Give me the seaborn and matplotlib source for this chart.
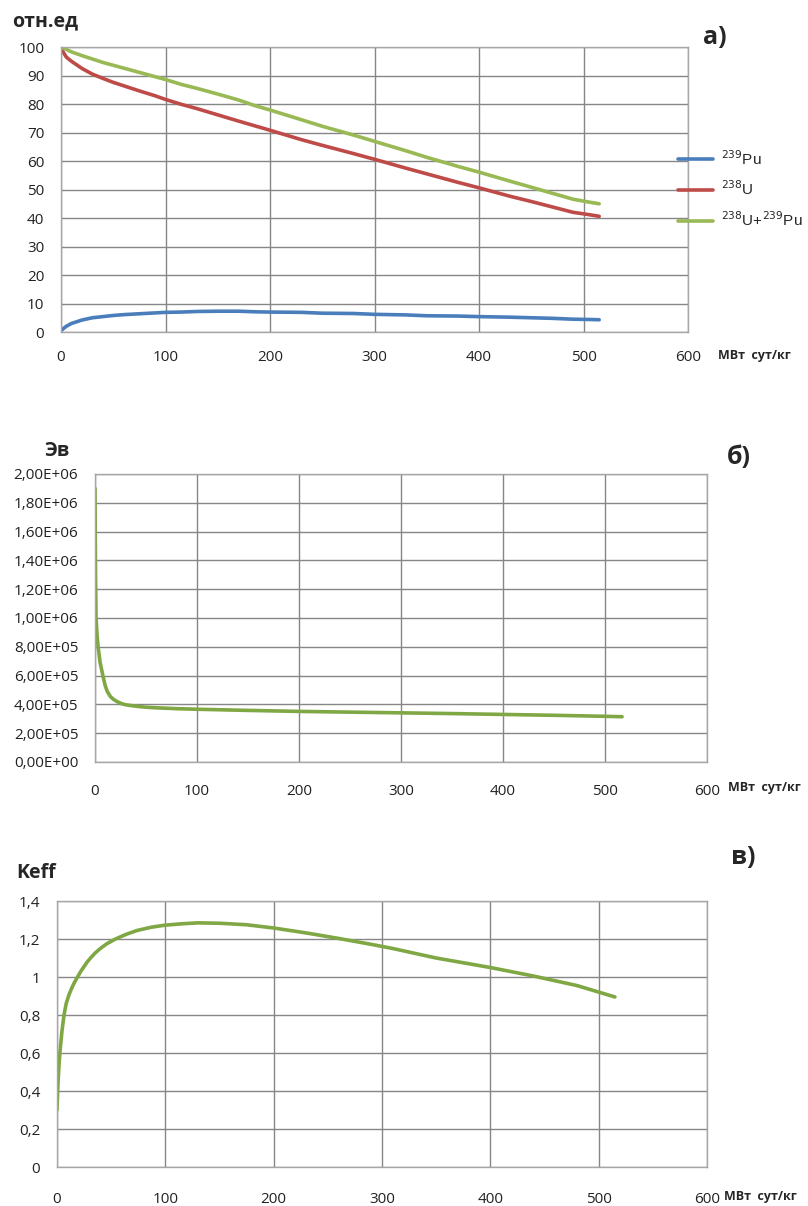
import numpy as np
import pandas as pd
import matplotlib.pyplot as plt
import seaborn as sns

## data read off the reference
# panel a: relative amounts, %
burnup_a = [0, 5, 10, 20, 30, 40, 50, 60, 75, 90, 100, 115, 130, 150, 170, 185, 200, 230, 250, 280,
            300, 330, 350, 380, 400, 430, 450, 470, 490, 505, 515]
pu239 = [0.5, 2.0, 3.0, 4.2, 5.0, 5.4, 5.8, 6.1, 6.4, 6.7, 6.9, 7.0, 7.2, 7.3, 7.3, 7.1, 7.0, 6.9, 6.6, 6.5,
         6.2, 6.0, 5.7, 5.6, 5.4, 5.2, 5.0, 4.8, 4.5, 4.4, 4.3]
u238 = [99.5, 96.5, 95.0, 92.5, 90.5, 89.0, 87.6, 86.4, 84.6, 82.9, 81.6, 79.9, 78.4, 76.2, 74.0, 72.4,
        70.8, 67.5, 65.5, 62.6, 60.6, 57.5, 55.5, 52.5, 50.6, 47.6, 45.8, 43.9, 42.0, 41.2, 40.6]
u238_pu239 = [100.0, 99.2, 98.3, 97.0, 95.8, 94.6, 93.6, 92.6, 91.1, 89.6, 88.6, 86.9, 85.5, 83.5, 81.4, 79.5,
              77.9, 74.5, 72.2, 69.1, 66.9, 63.6, 61.3, 58.1, 56.1, 52.9, 50.8, 48.7, 46.6, 45.6, 45.0]

# panel b: Эв
burnup_b = [0, 0.5, 1, 2, 3, 5, 8, 10, 12, 15, 18, 22, 26, 30, 40, 50, 60, 80, 100, 150, 200, 250, 300,
            350, 400, 450, 500, 517]
ev = [1.9e6, 1.3e6, 1.0e6, 8.8e5, 8.0e5, 6.9e5, 5.9e5, 5.3e5, 4.9e5, 4.55e5, 4.35e5, 4.18e5, 4.05e5,
      3.97e5, 3.87e5, 3.8e5, 3.76e5, 3.7e5, 3.66e5, 3.58e5, 3.51e5, 3.46e5, 3.41e5, 3.36e5, 3.3e5, 3.24e5,
      3.17e5, 3.14e5]

# panel c: Keff
burnup_c = [0, 1, 2, 3, 4.5, 6.5, 8.5, 11, 13.5, 16, 19, 22, 25, 28, 31, 35, 40, 46, 54, 64, 74, 87, 100,
            115, 130, 150, 175, 200, 230, 260, 290, 310, 350, 400, 440, 480, 515]
keff = [0.30, 0.45, 0.55, 0.62, 0.71, 0.80, 0.86, 0.905, 0.94, 0.97, 1.00, 1.03, 1.055, 1.08, 1.10, 1.125,
        1.15, 1.175, 1.20, 1.225, 1.245, 1.262, 1.273, 1.28, 1.285, 1.283, 1.275, 1.258, 1.232, 1.203, 1.172,
        1.15, 1.10, 1.05, 1.005, 0.955, 0.895]

BLUE, RED, GREEN = "#4a7ebb", "#be4b48", "#98b954"
GREEN2 = "#7fa743"

sns.set_style("white")
plt.rcParams['font.family'] = ['Open Sans', 'DejaVu Sans']


def style_axes(ax, ymax, ystep, xpad=10):
    ax.set_xlim(0, 600)
    ax.set_ylim(0, ymax)
    ax.set_xticks(range(0, 601, 100))
    ax.set_yticks(np.arange(0, ymax + ystep / 2, ystep))
    ax.grid(True, color="#868686", linewidth=1.0)
    for s in ax.spines.values():
        s.set_color("#a6a6a6")
        s.set_linewidth(1.0)
    ax.tick_params(axis="both", which="both", direction="out", length=6, width=1.0,
                   color="#868686", labelsize=11, labelcolor="#222222")
    ax.tick_params(axis="x", pad=xpad)
    ax.tick_params(axis="y", pad=6)
    ax.set_xlabel("")
    ax.set_ylabel("")


fig = plt.figure(figsize=(8.08, 12.06), dpi=100)

## panel a
ax_a = fig.add_axes([0.0755, 0.7247, 0.776, 0.2363])
df_a = pd.DataFrame({
    "x": burnup_a * 3,
    "y": pu239 + u238 + u238_pu239,
    "s": ["$^{239}$Pu"] * len(pu239) + ["$^{238}$U"] * len(u238) + ["$^{238}$U+$^{239}$Pu"] * len(u238_pu239),
})
sns.lineplot(data=df_a, x="x", y="y", hue="s", palette=[BLUE, RED, GREEN], linewidth=2.6, ax=ax_a,
             legend=True)
style_axes(ax_a, 100, 10, xpad=7)
handles, labels = ax_a.get_legend_handles_labels()
ax_a.get_legend().remove()
fig.legend(handles, labels, loc="upper left", bbox_to_anchor=(0.835, 0.879), frameon=False,
           prop={"family": "Liberation Sans", "size": 11}, handlelength=2.3, labelspacing=0.78,
           handletextpad=0.5, borderpad=0.2, borderaxespad=0)
fig.text(0.015, 0.982, "отн.ед", fontsize=14, fontweight="bold", va="center")
fig.text(0.87, 0.969, "а)", fontsize=18, fontweight="bold", va="center")
fig.text(0.888, 0.705, "МВт  сут/кг", fontsize=9, fontweight="bold", va="center")

## panel b
ax_b = fig.add_axes([0.1176, 0.3682, 0.757, 0.2388])
sns.lineplot(x=burnup_b, y=ev, color=GREEN2, linewidth=2.6, ax=ax_b)
style_axes(ax_b, 2.0e6, 2.0e5)
ax_b.set_yticklabels([f"{v:.2E}".replace(".", ",") for v in ax_b.get_yticks()])
fig.text(0.055, 0.626, "Эв", fontsize=14, fontweight="bold", va="center")
fig.text(0.9, 0.621, "б)", fontsize=18, fontweight="bold", va="center")
fig.text(0.901, 0.347, "МВт  сут/кг", fontsize=9, fontweight="bold", va="center")

## panel c
ax_c = fig.add_axes([0.0705, 0.0323, 0.8045, 0.2206])
sns.lineplot(x=burnup_c, y=keff, color=GREEN2, linewidth=2.6, ax=ax_c)
style_axes(ax_c, 1.4, 0.2, xpad=12)
ax_c.set_yticklabels([f"{v:.1f}".replace(".", ",").replace(",0", "") for v in ax_c.get_yticks()])
fig.text(0.02, 0.276, "Keff", fontsize=14, fontweight="bold", va="center")
fig.text(0.905, 0.289, "в)", fontsize=18, fontweight="bold", va="center")
fig.text(0.896, 0.008, "МВт  сут/кг", fontsize=9, fontweight="bold", va="center")

fig.savefig("out.png", dpi=100)
